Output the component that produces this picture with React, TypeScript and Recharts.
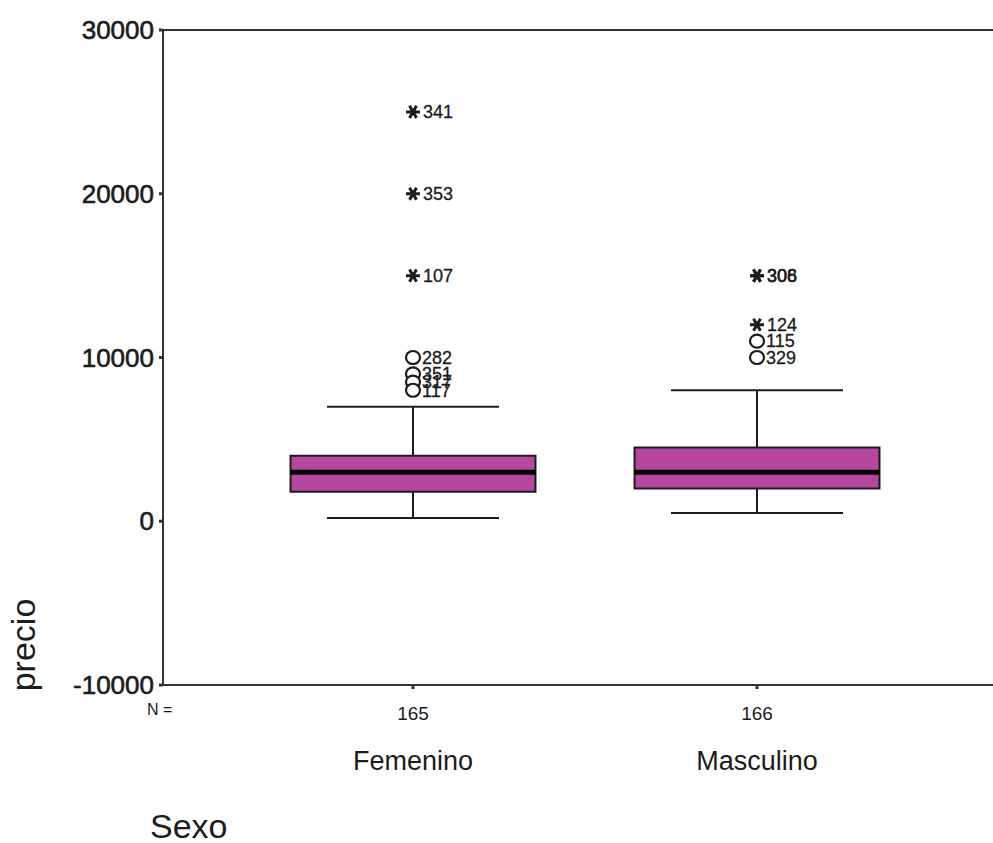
import React from 'react';
import {
  ComposedChart, XAxis, YAxis, Scatter, ReferenceArea, ReferenceLine,
} from 'recharts';

const GROUPS = ['Femenino', 'Masculino'];
const COUNTS = [165, 166];
const Q1 = [1800, 2000];
const MEDIAN = [3000, 3000];
const Q3 = [4000, 4500];
const WHISKER_LOW = [200, 500];
const WHISKER_HIGH = [7000, 8000];
const Y_TICKS = [-10000, 0, 10000, 20000, 30000];

// outliers (circles) and extremes (stars), case labels as in the SPSS output
const OUTLIER_GROUP = [0, 0, 0, 0, 1, 1];
const OUTLIER_VALUE = [10000, 9000, 8500, 8000, 11000, 10000];
const OUTLIER_CASE = ['282', '351', '317', '117', '115', '329'];
const EXTREME_GROUP = [0, 0, 0, 1, 1, 1];
const EXTREME_VALUE = [25000, 20000, 15000, 15000, 15000, 12000];
const EXTREME_CASE = ['341', '353', '107', '306', '308', '124'];

const BOX_FILL = '#B5479E';
const INK = '#1c1c1c';
const FONT = '"Liberation Sans", Arial, sans-serif';
const BOX_HALF = 0.356;
const CAP_HALF = 0.25;

const outliers = OUTLIER_VALUE.map((v, i) => ({ x: OUTLIER_GROUP[i] + 1, y: v, label: OUTLIER_CASE[i] }));
const extremes = EXTREME_VALUE.map((v, i) => ({ x: EXTREME_GROUP[i] + 1, y: v, label: EXTREME_CASE[i] }));

const CircleMark = (props: any) => {
  const { cx, cy, payload } = props;
  return (
    <g>
      <ellipse cx={cx} cy={cy} rx={7} ry={6.5} fill="#fff" stroke={INK} strokeWidth={2.2} />
      <text x={cx + 9} y={cy} dy="0.35em" fontSize={18} fontFamily={FONT} fill={INK} stroke={INK} strokeWidth={0.3}>
        {payload.label}
      </text>
    </g>
  );
};

const StarMark = (props: any) => {
  const { cx, cy, payload } = props;
  const r = 7;
  const arms = [0, 60, 120].map((deg) => {
    const a = (deg * Math.PI) / 180;
    return `M${cx - r * Math.cos(a)},${cy - r * Math.sin(a)}L${cx + r * Math.cos(a)},${cy + r * Math.sin(a)}`;
  });
  return (
    <g>
      <path d={arms.join('')} stroke={INK} strokeWidth={3} fill="none" />
      <text x={cx + 10} y={cy} dy="0.35em" fontSize={18} fontFamily={FONT} fill={INK} stroke={INK} strokeWidth={0.3}>
        {payload.label}
      </text>
    </g>
  );
};

const XTick = (props: any) => {
  const { x, y, payload } = props;
  const i = payload.value - 1;
  return (
    <g>
      <text x={x} y={y + 22} dy="0.35em" textAnchor="middle" fontSize={19} fontFamily={FONT} fill={INK}>
        {COUNTS[i]}
      </text>
      <text x={x} y={y + 70} dy="0.35em" textAnchor="middle" fontSize={27} fontFamily={FONT} fill={INK}>
        {GROUPS[i]}
      </text>
    </g>
  );
};

const YTick = (props: any) => {
  const { x, y, payload } = props;
  return (
    <text x={x} y={y} dy="0.35em" textAnchor="end" fontSize={26} fontFamily={FONT} fill={INK}
      stroke={INK} strokeWidth={0.6}>
      {payload.value}
    </text>
  );
};

export default function App() {
  return (
    <div style={{ position: 'absolute', left: 0, top: 0, width: 993, height: 843, overflow: 'hidden', background: '#fff' }}>
      <ComposedChart width={993} height={843} margin={{ top: 30, right: 0, bottom: 118, left: 0 }}>
        <XAxis
          type="number"
          dataKey="x"
          domain={[0.2733, 2.686]}
          ticks={[1, 2]}
          allowDataOverflow
          height={40}
          tick={<XTick />}
          tickSize={4}
          axisLine={{ stroke: '#333', strokeWidth: 2 }}
          tickLine={{ stroke: '#333', strokeWidth: 3 }}
        />
        <YAxis
          type="number"
          dataKey="y"
          domain={[-10000, 30000]}
          ticks={Y_TICKS}
          width={163}
          tick={<YTick />}
          tickSize={4}
          tickMargin={5}
          axisLine={{ stroke: '#333', strokeWidth: 2 }}
          tickLine={{ stroke: '#333', strokeWidth: 3 }}
        />
        <ReferenceLine y={30000} stroke="#333" strokeWidth={2} />
        {GROUPS.map((g, i) => (
          <React.Fragment key={g}>
            <ReferenceLine segment={[{ x: i + 1, y: WHISKER_LOW[i] }, { x: i + 1, y: Q1[i] }]} stroke={INK} strokeWidth={2} />
            <ReferenceLine segment={[{ x: i + 1, y: Q3[i] }, { x: i + 1, y: WHISKER_HIGH[i] }]} stroke={INK} strokeWidth={2} />
            <ReferenceLine segment={[{ x: i + 1 - CAP_HALF, y: WHISKER_LOW[i] }, { x: i + 1 + CAP_HALF, y: WHISKER_LOW[i] }]} stroke={INK} strokeWidth={2} />
            <ReferenceLine segment={[{ x: i + 1 - CAP_HALF, y: WHISKER_HIGH[i] }, { x: i + 1 + CAP_HALF, y: WHISKER_HIGH[i] }]} stroke={INK} strokeWidth={2} />
            <ReferenceArea x1={i + 1 - BOX_HALF} x2={i + 1 + BOX_HALF} y1={Q1[i]} y2={Q3[i]} fill={BOX_FILL} fillOpacity={1} stroke={INK} strokeWidth={2} />
            <ReferenceLine segment={[{ x: i + 1 - BOX_HALF, y: MEDIAN[i] }, { x: i + 1 + BOX_HALF, y: MEDIAN[i] }]} stroke="#000" strokeWidth={5} />
          </React.Fragment>
        ))}
        <Scatter data={outliers} shape={<CircleMark />} isAnimationActive={false} />
        <Scatter data={extremes} shape={<StarMark />} isAnimationActive={false} />
      </ComposedChart>
      <div style={{ position: 'absolute', left: 147, top: 701, fontFamily: FONT, fontSize: 16, color: INK }}>N =</div>
      <div style={{ position: 'absolute', left: 150, top: 807, fontFamily: FONT, fontSize: 34, color: INK }}>Sexo</div>
      <div style={{
        position: 'absolute', left: 23, top: 645, fontFamily: FONT, fontSize: 34, color: INK,
        transform: 'translate(-50%, -50%) rotate(-90deg)', whiteSpace: 'nowrap',
      }}>precio</div>
    </div>
  );
}
